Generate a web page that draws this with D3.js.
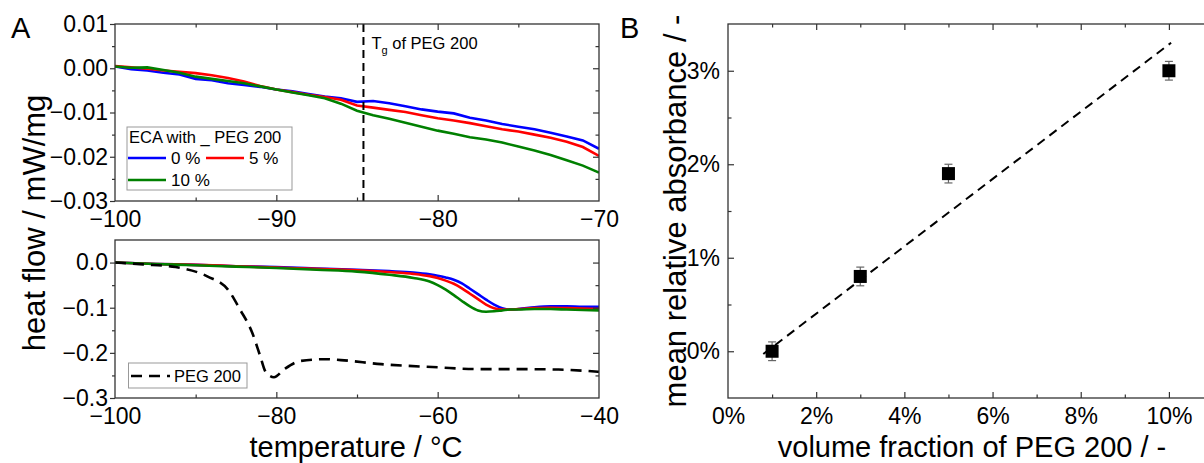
<!DOCTYPE html>
<html>
<head>
<meta charset="utf-8">
<script src="https://cdn.jsdelivr.net/npm/d3@7"></script>
<style>
  body { margin: 0; background: #fff; }
  svg text { font-family: 'Liberation Sans', Arial, sans-serif; fill: #000; }
</style>
</head>
<body>
<script>
// Panel A (top): low temperature zoom, heat flow in mW/mg
const tempTop = [-100, -99, -98, -97, -96, -95, -94, -93, -92, -91, -90, -89, -88, -87, -86, -85,
  -84, -83, -82, -81, -80, -79, -78, -77, -76, -75, -74, -73, -72, -71, -70];
const topPeg0 = [0.0004, -0.0002, -0.0005, -0.0010, -0.0014, -0.0024, -0.0027, -0.0034, -0.0038, -0.0042,
  -0.0048, -0.0052, -0.0058, -0.0064, -0.0068, -0.0076, -0.0074, -0.0079, -0.0086, -0.0093,
  -0.0098, -0.0102, -0.0112, -0.0118, -0.0126, -0.0132, -0.0138, -0.0146, -0.0154, -0.0163, -0.0182];
const topPeg5 = [0.0005, 0.0002, -0.0001, -0.0005, -0.0008, -0.0011, -0.0016, -0.0022, -0.0030, -0.0040,
  -0.0048, -0.0054, -0.0060, -0.0065, -0.0071, -0.0084, -0.0089, -0.0094, -0.0099, -0.0106,
  -0.0113, -0.0118, -0.0124, -0.0131, -0.0138, -0.0143, -0.0150, -0.0157, -0.0166, -0.0178, -0.0198];
const topPeg10 = [0.0004, 0.0001, 0.0002, -0.0004, -0.0010, -0.0019, -0.0024, -0.0029, -0.0034, -0.0041,
  -0.0048, -0.0055, -0.0061, -0.0068, -0.0080, -0.0096, -0.0106, -0.0114, -0.0123, -0.0132,
  -0.0141, -0.0148, -0.0156, -0.0161, -0.0168, -0.0177, -0.0186, -0.0196, -0.0208, -0.0220, -0.0236];
const tgPeg = -84.6;

// Panel A (bottom): full range
const tempBottom = [-100, -95, -90, -85, -80, -75, -70, -66, -63, -61, -60, -59, -58, -57, -56, -55,
  -54, -53, -52, -51, -50, -48, -46, -44, -42, -40];
const botPeg0 = [0, -0.003, -0.005, -0.008, -0.010, -0.013, -0.016, -0.019, -0.022, -0.026, -0.029,
  -0.033, -0.038, -0.046, -0.058, -0.070, -0.082, -0.093, -0.101, -0.104, -0.103, -0.099,
  -0.097, -0.097, -0.098, -0.098];
const botPeg5 = [0, -0.003, -0.005, -0.008, -0.011, -0.014, -0.017, -0.021, -0.025, -0.030, -0.034,
  -0.040, -0.047, -0.057, -0.069, -0.081, -0.093, -0.101, -0.104, -0.104, -0.103, -0.101,
  -0.100, -0.101, -0.102, -0.103];
const botPeg10 = [0, -0.003, -0.006, -0.009, -0.012, -0.016, -0.020, -0.027, -0.034, -0.042, -0.050,
  -0.060, -0.072, -0.085, -0.097, -0.106, -0.109, -0.108, -0.106, -0.104, -0.104, -0.103,
  -0.103, -0.104, -0.105, -0.106];
const tempPure = [-100, -96.5, -92.5, -88.5, -86, -84.5, -83, -82, -81.3, -80.3, -79, -77, -74, -72,
  -67, -60, -55, -50, -45, -40];
const purePeg = [0, -0.004, -0.010, -0.031, -0.060, -0.104, -0.155, -0.207, -0.243, -0.254, -0.236,
  -0.218, -0.214, -0.216, -0.225, -0.232, -0.236, -0.236, -0.237, -0.242];

// Panel B: absorbance vs. volume fraction (both in %)
const volFraction = [1, 3, 5, 10];
const absorbance = [0, 0.8, 1.9, 3.0];
const absError = [0.1, 0.1, 0.1, 0.1];
const fitX = [0.8, 10.05];
const fitY = [-0.03, 3.3];

const seriesColors = ["#0000ff", "#ff0000", "#008000"];
const seriesNames = ["0 %", "5 %", "10 %"];

const frameColor = "#333";
const tickFont = 23;

const svg = d3.select("body").append("svg")
  .attr("width", 1204)
  .attr("height", 463);

// draws only tick marks of an axis
function tickMarks(axis, vals, len, tr) {
  const g = svg.append("g").attr("transform", tr)
    .call(axis.tickValues(vals).tickSize(len).tickFormat(""));
  g.select(".domain").remove();
  g.selectAll("line").attr("stroke", frameColor).attr("stroke-width", 1.2);
}

// draws only labels of an axis
function tickLabels(axis, vals, fmt, pad, tr) {
  const g = svg.append("g").attr("transform", tr)
    .call(axis.tickValues(vals).tickSize(0).tickPadding(pad).tickFormat(fmt));
  g.select(".domain").remove();
  g.selectAll("text").style("font-size", tickFont + "px")
    .style("font-family", "'Liberation Sans', Arial, sans-serif");
}

function frame(x0, y0, x1, y1) {
  svg.append("rect")
    .attr("x", x0).attr("y", y0)
    .attr("width", x1 - x0).attr("height", y1 - y0)
    .attr("fill", "none")
    .attr("stroke", frameColor)
    .attr("stroke-width", 1.3);
}

function clip(id, x0, y0, x1, y1) {
  svg.append("clipPath").attr("id", id)
    .append("rect").attr("x", x0).attr("y", y0).attr("width", x1 - x0).attr("height", y1 - y0);
}

/////////////////
/// PANEL A top
/////////////////
const aLeft = 115, aRight = 599;
const xTop = d3.scaleLinear().domain([-100, -70]).range([aLeft, aRight]);
const yTop = d3.scaleLinear().domain([-0.03, 0.01]).range([201, 24]);

clip("clipTop", aLeft, 24, aRight, 201);
const lineTop = d3.line().x((d, i) => xTop(tempTop[i])).y(d => yTop(d));
[topPeg0, topPeg5, topPeg10].forEach((s, k) => {
  svg.append("path")
    .datum(s)
    .attr("d", lineTop)
    .attr("fill", "none")
    .attr("stroke", seriesColors[k])
    .attr("stroke-width", 2.6)
    .attr("clip-path", "url(#clipTop)");
});

// Tg of PEG 200 marker
svg.append("line")
  .attr("x1", xTop(tgPeg)).attr("x2", xTop(tgPeg))
  .attr("y1", yTop(0.01)).attr("y2", yTop(-0.03))
  .attr("stroke", "#000")
  .attr("stroke-width", 2)
  .attr("stroke-dasharray", "8,5");
const tg = svg.append("text")
  .attr("x", xTop(tgPeg) + 8)
  .attr("y", 49)
  .style("font-size", "16.5px");
tg.append("tspan").text("T");
tg.append("tspan").attr("dy", 5).style("font-size", "11px").text("g");
tg.append("tspan").attr("dy", -5).text(" of PEG 200");

frame(aLeft, 24, aRight, 201);
tickMarks(d3.axisLeft(yTop), [-0.03, -0.02, -0.01, 0, 0.01], 5, `translate(${aLeft},0)`);
tickMarks(d3.axisLeft(yTop), [-0.025, -0.015, -0.005, 0.005], 3, `translate(${aLeft},0)`);
tickMarks(d3.axisRight(yTop), [-0.02, -0.01, 0], -6, `translate(${aRight},0)`);
tickMarks(d3.axisRight(yTop), [-0.025, -0.015, -0.005, 0.005], -3.5, `translate(${aRight},0)`);
tickMarks(d3.axisBottom(xTop), [-90, -80], -6, `translate(0,201)`);
tickMarks(d3.axisBottom(xTop), [-95, -85, -75], -3.5, `translate(0,201)`);
tickMarks(d3.axisTop(xTop), [-90, -80], -6, `translate(0,24)`);
tickMarks(d3.axisTop(xTop), [-95, -85, -75], -3.5, `translate(0,24)`);
tickLabels(d3.axisLeft(yTop), [-0.03, -0.02, -0.01, 0, 0.01], d3.format(".2f"), 7, `translate(${aLeft},0)`);
tickLabels(d3.axisBottom(xTop), [-100, -90, -80, -70], d3.format("d"), 10, `translate(0,201)`);

// legend top
svg.append("rect")
  .attr("x", 127).attr("y", 127).attr("width", 165).attr("height", 63)
  .attr("fill", "#fff").attr("stroke", "#999").attr("stroke-width", 1);
svg.append("text").attr("x", 129).attr("y", 143).style("font-size", "16.5px").text("ECA with _ PEG 200");
const legPos = [[128, 158], [206, 158], [128, 180]];
seriesNames.forEach((n, k) => {
  const [lx, ly] = legPos[k];
  svg.append("line")
    .attr("x1", lx).attr("x2", lx + 38).attr("y1", ly).attr("y2", ly)
    .attr("stroke", seriesColors[k]).attr("stroke-width", 2.6);
  svg.append("text").attr("x", lx + 43).attr("y", ly + 6).style("font-size", "17px").text(n);
});

/////////////////
/// PANEL A bottom
/////////////////
const xBot = d3.scaleLinear().domain([-100, -40]).range([aLeft, aRight]);
const yBot = d3.scaleLinear().domain([-0.3, 0.05]).range([398, 240]);

clip("clipBot", aLeft, 240, aRight, 398);
const lineBot = d3.line().curve(d3.curveMonotoneX).x((d, i) => xBot(tempBottom[i])).y(d => yBot(d));
[botPeg0, botPeg5, botPeg10].forEach((s, k) => {
  svg.append("path")
    .datum(s)
    .attr("d", lineBot)
    .attr("fill", "none")
    .attr("stroke", seriesColors[k])
    .attr("stroke-width", 2.6)
    .attr("clip-path", "url(#clipBot)");
});
svg.append("path")
  .datum(purePeg)
  .attr("d", d3.line().curve(d3.curveMonotoneX).x((d, i) => xBot(tempPure[i])).y(d => yBot(d)))
  .attr("fill", "none")
  .attr("stroke", "#000")
  .attr("stroke-width", 2.6)
  .attr("stroke-dasharray", "11,7")
  .attr("clip-path", "url(#clipBot)");

frame(aLeft, 240, aRight, 398);
tickMarks(d3.axisLeft(yBot), [-0.3, -0.2, -0.1, 0], 5, `translate(${aLeft},0)`);
tickMarks(d3.axisLeft(yBot), [-0.25, -0.15, -0.05], 3, `translate(${aLeft},0)`);
tickMarks(d3.axisRight(yBot), [-0.2, -0.1, 0], -6, `translate(${aRight},0)`);
tickMarks(d3.axisRight(yBot), [-0.25, -0.15, -0.05], -3.5, `translate(${aRight},0)`);
tickMarks(d3.axisBottom(xBot), [-80, -60], -6, `translate(0,398)`);
tickMarks(d3.axisBottom(xBot), [-90, -70, -50], -3.5, `translate(0,398)`);
tickLabels(d3.axisLeft(yBot), [-0.3, -0.2, -0.1, 0], d3.format(".1f"), 7, `translate(${aLeft},0)`);
tickLabels(d3.axisBottom(xBot), [-100, -80, -60, -40], d3.format("d"), 10, `translate(0,398)`);

// legend bottom
svg.append("rect")
  .attr("x", 128.5).attr("y", 363).attr("width", 118.5).attr("height", 25)
  .attr("fill", "#fff").attr("stroke", "#999").attr("stroke-width", 1);
svg.append("line")
  .attr("x1", 131).attr("x2", 170).attr("y1", 376).attr("y2", 376)
  .attr("stroke", "#000").attr("stroke-width", 2.6).attr("stroke-dasharray", "11,7");
svg.append("text").attr("x", 174).attr("y", 382).style("font-size", "16.5px").text("PEG 200");

// axis titles A
svg.append("text")
  .attr("transform", "translate(45,223) rotate(-90)")
  .attr("text-anchor", "middle")
  .style("font-size", "31px")
  .text("heat flow / mW/mg");
svg.append("text")
  .attr("x", 356).attr("y", 457)
  .attr("text-anchor", "middle")
  .style("font-size", "29px")
  .text("temperature / °C");
svg.append("text").attr("x", 11).attr("y", 38).style("font-size", "29px").text("A");

/////////////////
/// PANEL B
/////////////////
const bLeft = 728, bRight = 1213;
const xB = d3.scaleLinear().domain([0, 11]).range([bLeft, bRight]);
const yB = d3.scaleLinear().domain([-0.5, 3.5]).range([398, 24]);

svg.append("line")
  .attr("x1", xB(fitX[0])).attr("y1", yB(fitY[0]))
  .attr("x2", xB(fitX[1])).attr("y2", yB(fitY[1]))
  .attr("stroke", "#000").attr("stroke-width", 2)
  .attr("stroke-dasharray", "9,6");

const pts = volFraction.map((v, i) => ({x: v, y: absorbance[i], e: absError[i]}));
const err = svg.append("g").attr("stroke", "#666").attr("stroke-width", 1.2);
pts.forEach(p => {
  err.append("line").attr("x1", xB(p.x)).attr("x2", xB(p.x))
    .attr("y1", yB(p.y + p.e)).attr("y2", yB(p.y - p.e));
  [p.y + p.e, p.y - p.e].forEach(v => {
    err.append("line").attr("x1", xB(p.x) - 4).attr("x2", xB(p.x) + 4)
      .attr("y1", yB(v)).attr("y2", yB(v));
  });
});
svg.selectAll("rect.pt")
  .data(pts)
  .enter()
  .append("rect")
    .attr("class", "pt")
    .attr("x", d => xB(d.x) - 6.5)
    .attr("y", d => yB(d.y) - 6.5)
    .attr("width", 13)
    .attr("height", 13)
    .attr("fill", "#000");

frame(bLeft, 24, bRight, 398);
tickMarks(d3.axisLeft(yB), [0, 1, 2, 3], -6, `translate(${bLeft},0)`);
tickMarks(d3.axisLeft(yB), [0.5, 1.5, 2.5], -3.5, `translate(${bLeft},0)`);
tickMarks(d3.axisBottom(xB), [2, 4, 6, 8, 10], -6, `translate(0,398)`);
tickMarks(d3.axisBottom(xB), [1, 3, 5, 7, 9], -3.5, `translate(0,398)`);
tickMarks(d3.axisTop(xB), [2, 4, 6, 8, 10], -6, `translate(0,24)`);
tickMarks(d3.axisTop(xB), [1, 3, 5, 7, 9], -3.5, `translate(0,24)`);
tickLabels(d3.axisLeft(yB), [0, 1, 2, 3], d => d + "%", 8, `translate(${bLeft},0)`);
tickLabels(d3.axisBottom(xB), [0, 2, 4, 6, 8, 10], d => d + "%", 10, `translate(0,398)`);

svg.append("text")
  .attr("transform", "translate(686,211) rotate(-90)")
  .attr("text-anchor", "middle")
  .style("font-size", "31px")
  .text("mean relative absorbance / -");
svg.append("text")
  .attr("x", 972).attr("y", 457)
  .attr("text-anchor", "middle")
  .style("font-size", "29px")
  .text("volume fraction of PEG 200 / -");
svg.append("text").attr("x", 620).attr("y", 38).style("font-size", "29px").text("B");
</script>
</body>
</html>
